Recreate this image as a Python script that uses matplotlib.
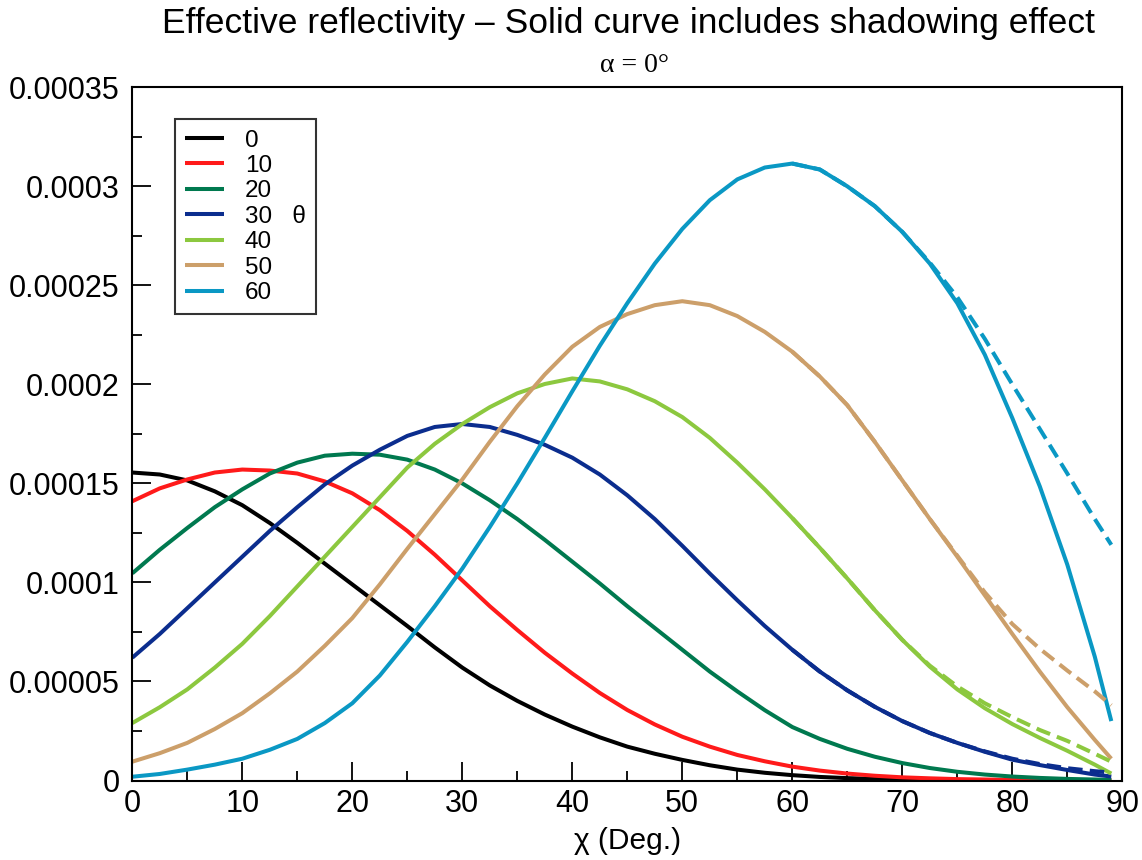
import matplotlib
matplotlib.use("Agg")
import matplotlib.pyplot as plt
from matplotlib.ticker import MultipleLocator, FixedLocator

# chi angle (deg) and effective reflectivity, values in units of 1e-5
chi = [0, 2.5, 5, 7.5, 10, 12.5, 15, 17.5, 20, 22.5, 25, 27.5, 30, 32.5, 35, 37.5, 40, 42.5, 45,
       47.5, 50, 52.5, 55, 57.5, 60, 62.5, 65, 67.5, 70, 72.5, 75, 77.5, 80, 82.5, 85, 87.5, 89]

refl_0 = [15.55, 15.45, 15.15, 14.6, 13.9, 13.0, 12.0, 10.95, 9.9, 8.85, 7.8, 6.72, 5.7, 4.8, 4.02, 3.33, 2.72, 2.18, 1.71,
          1.35, 1.04, 0.77, 0.55, 0.39, 0.27, 0.18, 0.12, 0.08, 0.05, 0.03, 0.02, 0.015, 0.01, 0.005, 0.0, 0.0, 0.0]
refl_10 = [14.1, 14.75, 15.2, 15.55, 15.7, 15.65, 15.5, 15.1, 14.5, 13.65, 12.6, 11.4, 10.1, 8.8, 7.6, 6.45, 5.4, 4.42, 3.56,
           2.83, 2.21, 1.71, 1.29, 0.97, 0.70, 0.5, 0.35, 0.24, 0.16, 0.11, 0.07, 0.05, 0.03, 0.02, 0.01, 0.0, 0.0]
refl_20 = [10.46, 11.65, 12.75, 13.8, 14.7, 15.5, 16.05, 16.4, 16.5, 16.45, 16.2, 15.7, 15.0, 14.15, 13.2, 12.15, 11.05, 9.95, 8.8,
           7.7, 6.6, 5.5, 4.5, 3.55, 2.7, 2.1, 1.6, 1.2, 0.88, 0.63, 0.44, 0.3, 0.2, 0.13, 0.08, 0.05, 0.03]
refl_30 = [6.2, 7.4, 8.7, 10.0, 11.3, 12.6, 13.8, 14.95, 15.9, 16.7, 17.4, 17.85, 18.0, 17.85, 17.45, 16.95, 16.3, 15.45, 14.4,
           13.2, 11.85, 10.45, 9.1, 7.8, 6.6, 5.5, 4.55, 3.72, 3.0, 2.4, 1.9, 1.45, 1.05, 0.78, 0.53, 0.3, 0.2]
refl_40 = [2.9, 3.7, 4.6, 5.7, 6.9, 8.3, 9.8, 11.3, 12.8, 14.3, 15.8, 17.0, 18.0, 18.85, 19.55, 20.02, 20.3, 20.15, 19.75,
           19.15, 18.35, 17.3, 16.05, 14.7, 13.25, 11.75, 10.2, 8.6, 7.1, 5.75, 4.6, 3.65, 2.85, 2.15, 1.5, 0.8, 0.35]
refl_50 = [0.95, 1.38, 1.9, 2.6, 3.4, 4.4, 5.5, 6.8, 8.2, 9.9, 11.7, 13.45, 15.2, 17.1, 18.9, 20.5, 21.9, 22.9, 23.55,
           24.0, 24.2, 24.0, 23.45, 22.65, 21.65, 20.4, 18.95, 17.1, 15.15, 13.2, 11.3, 9.35, 7.4, 5.5, 3.7, 2.05, 1.1]
refl_60 = [0.19, 0.33, 0.55, 0.8, 1.1, 1.55, 2.1, 2.9, 3.9, 5.3, 7.0, 8.8, 10.7, 12.8, 15.0, 17.3, 19.65, 21.95, 24.1,
           26.1, 27.85, 29.3, 30.35, 30.95, 31.15, 30.85, 30.0, 29.0, 27.7, 26.1, 24.1, 21.5, 18.3, 14.85, 10.9, 6.25, 3.0]

# without shadowing (dashed), only over the range where it can be seen
chi_ns = [60, 62.5, 65, 67.5, 70, 72.5, 75, 77.5, 80, 82.5, 85, 87.5, 89]
ns_30 = [6.6, 5.5, 4.55, 3.72, 3.0, 2.4, 1.9, 1.47, 1.1, 0.83, 0.62, 0.47, 0.4]
ns_40 = [13.25, 11.75, 10.2, 8.6, 7.1, 5.8, 4.75, 3.9, 3.2, 2.55, 2.0, 1.35, 0.95]
ns_50 = [21.65, 20.4, 18.95, 17.1, 15.15, 13.2, 11.35, 9.5, 7.9, 6.65, 5.55, 4.5, 3.8]
ns_60 = [31.15, 30.85, 30.0, 29.0, 27.7, 26.15, 24.4, 22.3, 20.0, 17.75, 15.5, 13.2, 11.9]

theta_labels = ["0", "10", "20", "30   \u03b8", "40", "50", "60"]
colors = ["#000000", "#ff1a1a", "#00794f", "#0b2d8e", "#8cc83f", "#cc9f6a", "#0a98c4"]

ytick_vals = [0, 5, 10, 15, 20, 25, 30, 35]
ytick_labels = ["0", "0.00005", "0.0001", "0.00015", "0.0002", "0.00025", "0.0003", "0.00035"]

scale = 1e-5

fig = plt.figure(figsize=(11.42, 8.6), dpi=100)
ax = fig.add_axes([132.3/1142, 1 - 780.5/860, 990/1142, 693.2/860])

solid = [refl_0, refl_10, refl_20, refl_30, refl_40, refl_50, refl_60]
for vals, c, lab in zip(solid, colors, theta_labels):
    ax.plot(chi, [v*scale for v in vals], color=c, lw=2.9, label=lab, solid_capstyle='butt')

dashed = [(ns_30, colors[3]), (ns_40, colors[4]), (ns_50, colors[5]), (ns_60, colors[6])]
for vals, c in dashed:
    ax.plot(chi_ns, [v*scale for v in vals], color=c, lw=2.9, ls=(0, (3.6, 1.8)), dash_capstyle='butt')

ax.set_xlim(0, 90)
ax.set_ylim(0, 35*scale)
ax.xaxis.set_major_locator(MultipleLocator(10))
ax.xaxis.set_minor_locator(MultipleLocator(5))
ax.yaxis.set_major_locator(FixedLocator([v*scale for v in ytick_vals]))
ax.yaxis.set_minor_locator(FixedLocator([(v + 2.5)*scale for v in ytick_vals[:-1]]))
ax.set_yticklabels(ytick_labels)

font = "Liberation Sans"
ax.tick_params(which='major', direction='in', length=14, width=1.3, top=False, right=False)
ax.tick_params(which='minor', direction='in', length=7, width=1.3, top=False, right=False)
ax.tick_params(axis='y', which='major', pad=9, labelsize=22)
ax.tick_params(axis='x', which='major', pad=6, labelsize=22)
for t in ax.get_xticklabels() + ax.get_yticklabels():
    t.set_family(font)
for s in ax.spines.values():
    s.set_linewidth(1.5)

ax.set_xlabel("\u03c7 (Deg.)", fontsize=21.5, family=font, labelpad=6)

leg = ax.legend(loc='upper left', bbox_to_anchor=((175 - 132.3)/990, (780.5 - 119.3)/693.2),
                borderaxespad=0, frameon=True, fancybox=False, edgecolor='black',
                prop={'family': font, 'size': 17.5}, handlelength=1.6, handletextpad=0.85,
                labelspacing=0.14, borderpad=0.42)
leg.get_frame().set_linewidth(1.5)

fig.text(629/1142, 1 - 24/860, "Effective reflectivity \u2013 Solid curve includes shadowing effect",
         ha='center', va='center', fontsize=25.5, family=font)
fig.text(634/1142, 1 - 65/860, "\u03b1 = 0\u00b0", ha='center', va='center', fontsize=20,
         family="Liberation Serif")

fig.savefig("out.png", dpi=100)
